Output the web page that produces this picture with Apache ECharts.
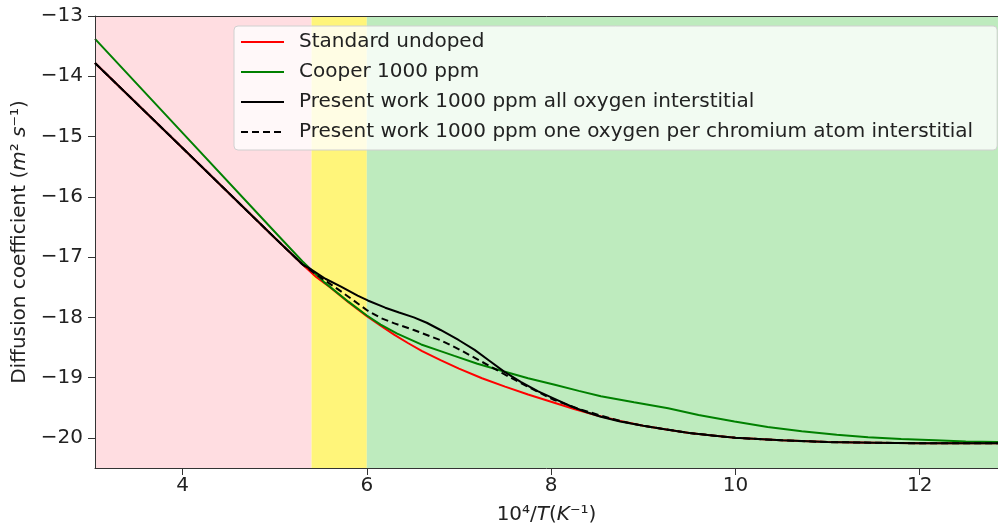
<!DOCTYPE html>
<html>
<head>
<meta charset="utf-8">
<script src="https://cdn.jsdelivr.net/npm/echarts@6/dist/echarts.min.js"></script>
<style>
html,body{margin:0;padding:0;background:#fff;}
#chart{width:998px;height:532px;}
</style>
</head>
<body>
<div id="chart"></div>
<script>
const xTicks = [4, 6, 8, 10, 12];
const yTicks = [-20, -19, -18, -17, -16, -15, -14, -13];
const regionStarts = [3.05, 5.4, 6.0];
const regionEnds = [5.4, 6.0, 12.85];

const seriesNames = [
  'Standard undoped',
  'Cooper 1000 ppm',
  'Present work 1000 ppm all oxygen interstitial',
  'Present work 1000 ppm one oxygen per chromium atom interstitial'
];

const redX = [3.05,4,5,5.3,5.45,5.6,5.8,6.0,6.15,6.3,6.45,6.6,6.8,7.0,7.25,7.5,7.75,8.0,8.25,8.5,8.75,9.0,9.25,9.5,9.75,10,10.5,11,11.5,12,12.5,12.85];
const redY = [-13.78,-15.19,-16.68,-17.12,-17.33,-17.50,-17.75,-17.98,-18.14,-18.29,-18.43,-18.56,-18.71,-18.85,-19.01,-19.15,-19.28,-19.40,-19.52,-19.63,-19.72,-19.80,-19.86,-19.92,-19.96,-20.00,-20.04,-20.07,-20.08,-20.09,-20.09,-20.09];

const greenX = [3.05,4,5,5.3,5.54,5.8,6.0,6.15,6.33,6.59,6.8,6.95,7.2,7.49,7.75,8.04,8.3,8.54,8.9,9.27,9.6,9.99,10.35,10.72,11.1,11.44,11.8,12.17,12.5,12.85];
const greenY = [-13.38,-14.94,-16.58,-17.07,-17.42,-17.74,-17.97,-18.12,-18.27,-18.45,-18.56,-18.64,-18.77,-18.90,-19.01,-19.12,-19.22,-19.31,-19.41,-19.51,-19.62,-19.73,-19.82,-19.89,-19.95,-19.99,-20.02,-20.04,-20.06,-20.07];

const solidX = [3.05,4,5,5.3,5.39,5.55,5.72,5.9,6.01,6.2,6.35,6.51,6.65,6.8,7.0,7.17,7.33,7.49,7.67,7.86,8.05,8.22,8.38,8.54,8.75,9.0,9.25,9.5,9.75,10,10.5,11,11.5,12,12.5,12.85];
const solidY = [-13.78,-15.19,-16.68,-17.12,-17.20,-17.36,-17.49,-17.64,-17.72,-17.84,-17.92,-18.00,-18.09,-18.21,-18.38,-18.54,-18.72,-18.90,-19.07,-19.23,-19.36,-19.48,-19.57,-19.65,-19.73,-19.80,-19.86,-19.92,-19.96,-20.00,-20.04,-20.07,-20.08,-20.09,-20.09,-20.09];

const dashX = [3.05,4,5,5.3,5.5,5.72,6.01,6.15,6.3,6.51,6.8,7.0,7.3,7.5,7.67,8.03,8.3,8.54,8.75,9.0,9.25,9.5,9.75,10,10.5,11,11.5,12,12.5,12.85];
const dashY = [-13.78,-15.19,-16.68,-17.12,-17.34,-17.57,-17.89,-18.01,-18.10,-18.21,-18.38,-18.53,-18.78,-18.95,-19.09,-19.37,-19.52,-19.63,-19.72,-19.80,-19.86,-19.92,-19.96,-20.00,-20.04,-20.07,-20.08,-20.09,-20.09,-20.09];

const regionColors = ['rgb(255,221,225)', 'rgb(255,245,122)', 'rgb(190,235,190)'];
const zip = (xs, ys) => xs.map((x, i) => [x, ys[i]]);
const fmt = v => String(v).replace('-', '\u2212');
const FONT = 'DejaVu Sans';
const TXT = '#222';

const chart = echarts.init(document.getElementById('chart'), null, {renderer: 'canvas'});

const baseLine = (name, xs, ys, color, type, z) => ({
  name, type: 'line', data: zip(xs, ys), showSymbol: false, symbol: 'none',
  smooth: false, z: z, silent: true, animation: false,
  lineStyle: {color, width: 2, type: type},
  itemStyle: {color}
});

const markSeries = {
  type: 'line', data: [], silent: true, animation: false, z: 1,
  markArea: {
    silent: true,
    data: regionStarts.map((s, i) => [
      {xAxis: s, itemStyle: {color: regionColors[i]}},
      {xAxis: regionEnds[i]}
    ])
  }
};

chart.setOption({
  animation: false,
  backgroundColor: '#fff',
  textStyle: {fontFamily: FONT},
  grid: {left: 95, right: 0, top: 16, bottom: 64, containLabel: false},
  legend: {
    orient: 'vertical', left: 234, top: 26,
    padding: [6, 24, 8, 6],
    itemWidth: 43, itemHeight: 14, itemGap: 10,
    backgroundColor: 'rgba(255,255,255,0.8)',
    borderColor: '#d0d0d0', borderWidth: 1, borderRadius: 4,
    itemStyle: {opacity: 0},
    textStyle: {fontFamily: FONT, fontSize: 20, lineHeight: 20, color: TXT, padding: [0, 0, 0, 10]},
    data: seriesNames
  },
  xAxis: [{
    type: 'value', min: 3.05, max: 12.85, z: 5,
    axisLine: {show: true, onZero: false, lineStyle: {color: '#333', width: 1}},
    axisTick: {show: true, length: 7, customValues: xTicks, lineStyle: {color: '#333'}},
    axisLabel: {customValues: xTicks, fontFamily: FONT, fontSize: 20, color: TXT, margin: 8, formatter: fmt},
    splitLine: {show: false},
    name: '10\u2074/{i|T}({i|K}\u207B\u00B9)',
    nameLocation: 'middle', nameGap: 37,
    nameTextStyle: {fontFamily: FONT, fontSize: 20, color: TXT,
      rich: {i: {fontFamily: FONT, fontSize: 20, fontStyle: 'italic', color: TXT}}}
  }, {
    type: 'value', min: 3.05, max: 12.85, position: 'top', z: 5,
    axisLine: {show: true, onZero: false, lineStyle: {color: '#333', width: 1}},
    axisTick: {show: false}, axisLabel: {show: false}, splitLine: {show: false}
  }],
  yAxis: [{
    type: 'value', min: -20.5, max: -13, z: 5,
    axisLine: {show: true, onZero: false, lineStyle: {color: '#333', width: 1}},
    axisTick: {show: true, length: 7, customValues: yTicks, lineStyle: {color: '#333'}},
    axisLabel: {customValues: yTicks, fontFamily: FONT, fontSize: 20, color: TXT, margin: 12, formatter: fmt},
    splitLine: {show: false},
    name: 'Diffusion coefficient ({i|m}\u00B2 {i|s}\u207B\u00B9)',
    nameLocation: 'middle', nameGap: 62,
    nameTextStyle: {fontFamily: FONT, fontSize: 20, color: TXT,
      rich: {i: {fontFamily: FONT, fontSize: 20, fontStyle: 'italic', color: TXT}}}
  }],
  series: [
    markSeries,
    baseLine(seriesNames[0], redX, redY, '#ff0000', 'solid', 2),
    baseLine(seriesNames[1], greenX, greenY, '#008000', 'solid', 3),
    baseLine(seriesNames[2], solidX, solidY, '#000000', 'solid', 4),
    baseLine(seriesNames[3], dashX, dashY, '#000000', [7, 4], 5)
  ]
});
</script>
</body>
</html>
